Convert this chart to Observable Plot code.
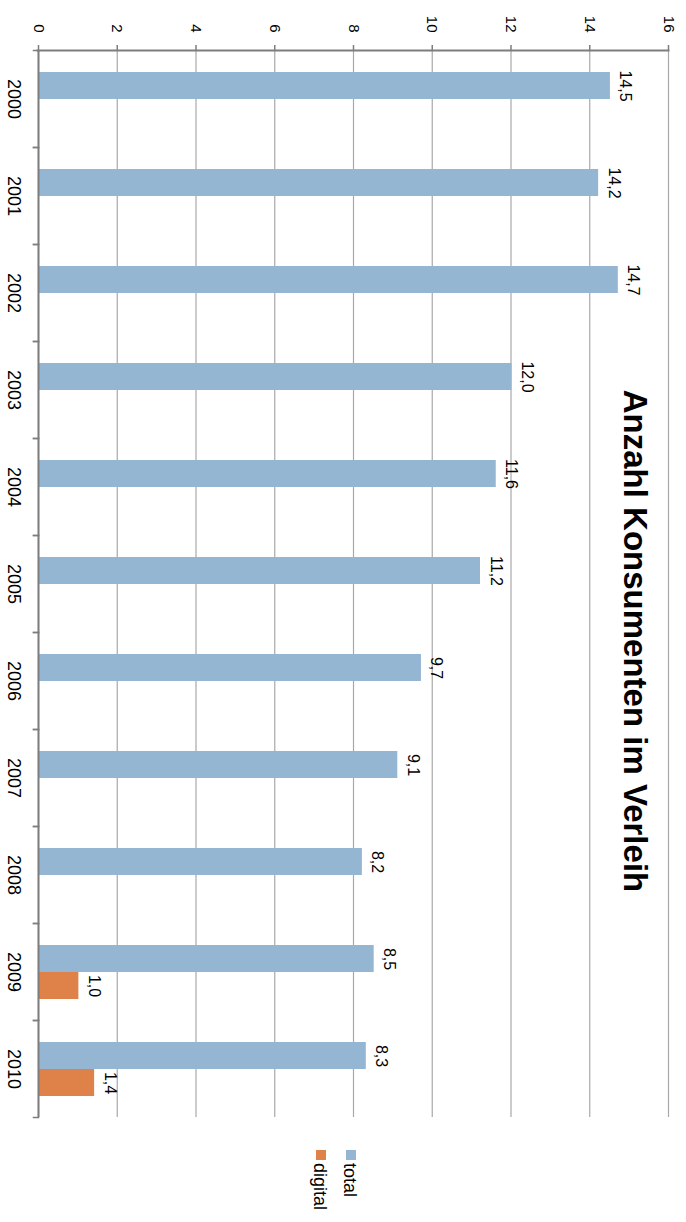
<!DOCTYPE html>
<html>
<head>
<meta charset="utf-8">
<script src="https://cdn.jsdelivr.net/npm/d3@7"></script>
<script src="https://cdn.jsdelivr.net/npm/@observablehq/plot@0.6"></script>
<style>
html, body { margin: 0; padding: 0; background: #fff; }
body { width: 686px; height: 1222px; overflow: hidden; position: relative; font-family: "Liberation Sans", Arial, sans-serif; }
#rot { position: absolute; left: 0; top: 0; width: 1222px; height: 686px; transform-origin: 0 0; transform: translate(686px, 0) rotate(90deg); }
#chart { position: absolute; left: 0; top: 0; }
#title { position: absolute; left: 341px; width: 600px; top: 34px; text-align: center; font-weight: bold; font-size: 33px; line-height: 33px; color: #000; white-space: nowrap; }
#legend { position: absolute; left: 1150px; top: 327px; font-size: 18px; line-height: 18px; color: #000; }
.item { display: flex; align-items: flex-start; height: 30px; }
.sw { width: 10px; height: 10px; margin-top: 3px; margin-right: 3px; flex: none; }
</style>
</head>
<body>
<div id="rot">
  <div id="chart"></div>
  <div id="title"></div>
  <div id="legend"></div>
</div>
<script>
// ---- data ----
const years = ["2000", "2001", "2002", "2003", "2004", "2005", "2006", "2007", "2008", "2009", "2010"];
const total = [14.5, 14.2, 14.7, 12.0, 11.6, 11.2, 9.7, 9.1, 8.2, 8.5, 8.3];
const digital = [null, null, null, null, null, null, null, null, null, 1.0, 1.4];
const seriesNames = ["total", "digital"];
const seriesColors = ["#94b6d3", "#de8249"];
const valueTicks = [0, 2, 4, 6, 8, 10, 12, 14, 16];
const titleText = "Anzahl Konsumenten im Verleih";

// ---- table for the library ----
const rows = [];
years.forEach((y, i) => {
  rows.push({year: y, series: "total", value: total[i]});
  if (digital[i] != null) rows.push({year: y, series: "digital", value: digital[i]});
});

const fmt = v => v.toFixed(1).replace(".", ",");

const W = 1222, H = 686;
const mT = 17, mB = 39, mL = 46, mR = 101;
const innerH = H - mT - mB;
const axisColor = "#7d7d7d";
const gridColor = "#a8a8a8";
const axisWidth = 2;

const chart = Plot.plot({
  width: W,
  height: H,
  marginTop: mT,
  marginBottom: mB,
  marginLeft: mL,
  marginRight: mR,
  style: {fontFamily: "'Liberation Sans', Arial, sans-serif", color: "#000", background: "transparent"},
  fx: {domain: years, padding: 0, label: null},
  x: {domain: seriesNames, paddingInner: 0, paddingOuter: 0.7545, axis: null},
  y: {domain: [0, 16], label: null},
  color: {domain: seriesNames, range: seriesColors},
  marks: [
    Plot.gridY(valueTicks, {stroke: gridColor, strokeOpacity: 1, strokeWidth: 1.2}),
    Plot.barY(rows, {fx: "year", x: "series", y: "value", fill: "series"}),
    Plot.text(rows, {fx: "year", x: "series", y: "value", text: d => fmt(d.value), lineAnchor: "bottom", dy: -11, fontSize: 16, fill: "#000"}),
    Plot.ruleY([0], {stroke: axisColor, strokeWidth: axisWidth}),
    // value-axis line on the first facet's edge
    Plot.frame({anchor: "left", facetAnchor: "left", stroke: axisColor, strokeWidth: axisWidth, insetBottom: -1}),
    // category boundary ticks
    Plot.frame({anchor: "left", insetTop: innerH, insetBottom: -5, stroke: axisColor, strokeWidth: 1.5}),
    Plot.frame({anchor: "right", insetTop: innerH, insetBottom: -5, stroke: axisColor, strokeWidth: 1.5}),
    Plot.axisY(valueTicks, {tickSize: 5, tickPadding: 13, fontSize: 15, stroke: axisColor, strokeWidth: 1.5, fill: "#000", label: null, tickFormat: d => String(d)}),
    Plot.axisFx({anchor: "bottom", tickSize: 0, tickPadding: 18, fontSize: 18, fill: "#000", label: null})
  ]
});
document.getElementById("chart").appendChild(chart);

document.getElementById("title").textContent = titleText;

const legend = document.getElementById("legend");
seriesNames.forEach((name, i) => {
  const item = document.createElement("div");
  item.className = "item";
  const sw = document.createElement("span");
  sw.className = "sw";
  sw.style.background = seriesColors[i];
  const lab = document.createElement("span");
  lab.textContent = name;
  item.appendChild(sw);
  item.appendChild(lab);
  legend.appendChild(item);
});
</script>
</body>
</html>
